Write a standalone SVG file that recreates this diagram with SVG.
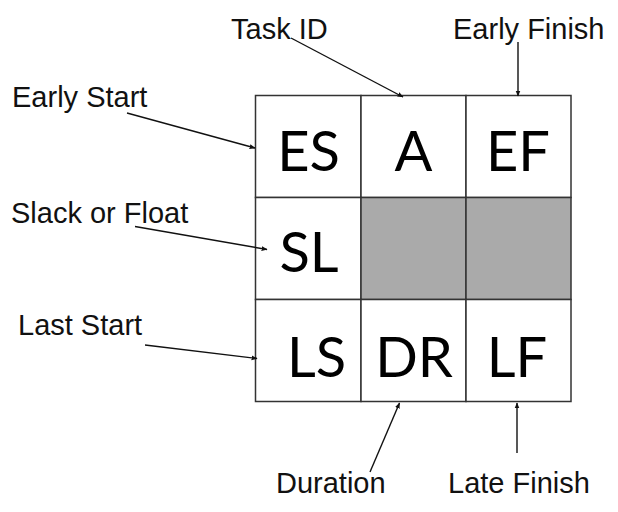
<svg xmlns="http://www.w3.org/2000/svg" width="618" height="512" viewBox="0 0 618 512">
<style>
.lbl{font-family:"Liberation Sans",Arial,sans-serif;font-size:29px;fill:#111}
.big{font-family:Lato,"Noto Sans",sans-serif;font-size:56px;fill:#000;text-anchor:middle}
.cell{fill:#fff;stroke:#333;stroke-width:1.5}
.shade{fill:#aaaaaa;stroke:#333;stroke-width:1.5}
.conn{stroke:#111;stroke-width:1.4;fill:none;marker-end:url(#ah)}
</style>
<defs>
<marker id="ah" viewBox="0 0 10 10" refX="9" refY="5" markerWidth="6" markerHeight="6" markerUnits="userSpaceOnUse" orient="auto">
<path d="M0,1 L10,5 L0,9 z" fill="#111"/>
</marker>
</defs>
<rect width="618" height="512" fill="#fff"/>
<g id="grid">
<g id="cell-ES"><rect class="cell" x="255.5" y="95.5" width="105.5" height="102"/><text class="big" x="308.5" y="170.5">ES</text></g>
<g id="cell-A"><rect class="cell" x="361" y="95.5" width="105" height="102"/><text class="big" x="413.5" y="170.5">A</text></g>
<g id="cell-EF"><rect class="cell" x="466" y="95.5" width="105" height="102"/><text class="big" x="518" y="170.5">EF</text></g>
<g id="cell-SL"><rect class="cell" x="255.5" y="197.5" width="105.5" height="102"/><text class="big" x="309" y="271.5">SL</text></g>
<g id="cell-blank1"><rect class="shade" x="361" y="197.5" width="105" height="102"/></g>
<g id="cell-blank2"><rect class="shade" x="466" y="197.5" width="105" height="102"/></g>
<g id="cell-LS"><rect class="cell" x="255.5" y="299.5" width="105.5" height="102"/><text class="big" x="316.5" y="376.5">LS</text></g>
<g id="cell-DR"><rect class="cell" x="361" y="299.5" width="105" height="102"/><text class="big" x="414" y="376.5">DR</text></g>
<g id="cell-LF"><rect class="cell" x="466" y="299.5" width="105" height="102"/><text class="big" x="517" y="376.5">LF</text></g>
</g>
<g id="labels">
<g id="lbl-taskid"><text class="lbl" x="231" y="39">Task ID</text></g>
<g id="lbl-earlyfinish"><text class="lbl" x="453" y="39">Early Finish</text></g>
<g id="lbl-earlystart"><text class="lbl" x="12" y="107">Early Start</text></g>
<g id="lbl-slack"><text class="lbl" x="11" y="223">Slack or Float</text></g>
<g id="lbl-laststart"><text class="lbl" x="18" y="335">Last Start</text></g>
<g id="lbl-duration"><text class="lbl" x="276" y="493">Duration</text></g>
<g id="lbl-latefinish"><text class="lbl" x="448" y="493">Late Finish</text></g>
</g>
<g id="connectors">
<line class="conn" x1="291" y1="38" x2="403" y2="97"/>
<line class="conn" x1="518" y1="42" x2="518" y2="96"/>
<line class="conn" x1="127" y1="113" x2="255" y2="148"/>
<line class="conn" x1="135" y1="226.5" x2="267" y2="249.5"/>
<line class="conn" x1="145" y1="345" x2="257" y2="358.5"/>
<line class="conn" x1="370" y1="472" x2="399.5" y2="403"/>
<line class="conn" x1="517" y1="453" x2="517" y2="403"/>
</g>
</svg>
